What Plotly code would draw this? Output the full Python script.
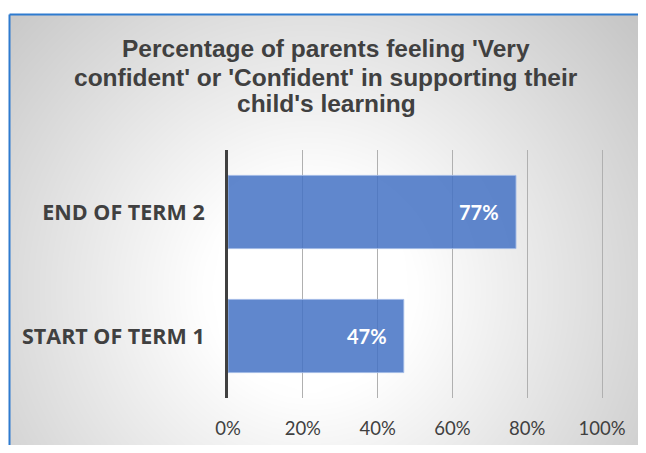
import numpy as np
import plotly.graph_objects as go

# ---- data ----
categories = ["START OF TERM 1", "END OF TERM 2"]
values = [47, 77]
value_labels = ["47%", "77%"]
tick_values = [0, 20, 40, 60, 80, 100]
tick_labels = ["0%", "20%", "40%", "60%", "80%", "100%"]
title_lines = ["Percentage of parents feeling 'Very",
               "confident' or 'Confident' in supporting their",
               "child's learning"]

# figure size chosen so the page (with default 8px body margin) fits the window
W, H = 630, 437
OFF = 8


def sx(px):  # screen x pixel -> paper fraction
    return (px - OFF) / W


def sy(py):  # screen y pixel -> paper fraction
    return 1 - (py - OFF) / H


# ---- radial gradient background (style only) ----
gx = np.linspace(10, 646, 40)
gy = np.linspace(15, 453, 30)
XX, YY = np.meshgrid(gx, gy)
rr = np.sqrt((XX - 310) ** 2 + (YY - 290) ** 2)
zz = np.clip((rr - 100) / 320, 0, 1)

fig = go.Figure()
fig.add_trace(go.Heatmap(
    x=gx, y=gy, z=zz, zmin=0, zmax=1, zsmooth="best",
    colorscale=[[0, "#ffffff"], [1, "#c6c6c6"]],
    showscale=False, hoverinfo="skip", xaxis="x", yaxis="y",
))

fig.add_trace(go.Bar(
    y=categories, x=values, orientation="h",
    marker=dict(color="rgba(68,114,196,0.85)",
                line=dict(color="rgba(160,185,230,0.9)", width=1)),
    xaxis="x2", yaxis="y2", hoverinfo="skip",
))

annotations = []
for c, v, lab in zip(categories, values, value_labels):
    annotations.append(dict(
        x=v, y=c, xref="x2", yref="y2", text=lab, showarrow=False,
        xanchor="right", xshift=-15,
        font=dict(family="Lato, Liberation Sans, sans-serif", size=20,
                  color="white", weight="bold"),
    ))

for line, ypx in zip(title_lines, [48, 77, 104]):
    annotations.append(dict(
        x=sx(326), y=sy(ypx), xref="paper", yref="paper",
        text="<b>" + line + "</b>", showarrow=False,
        xanchor="center", yanchor="middle",
        font=dict(family="Liberation Sans, Arial, sans-serif", size=24.5, color="#404040"),
    ))

shapes = [
    dict(type="line", xref="paper", yref="paper",
         x0=sx(9.5), x1=1, y0=sy(14.5), y1=sy(14.5),
         line=dict(color="#2E7BCF", width=2), layer="above"),
    dict(type="line", xref="paper", yref="paper",
         x0=sx(9.5), x1=sx(9.5), y0=0, y1=sy(14.5),
         line=dict(color="#2E7BCF", width=2), layer="above"),
]

XMAX = 100.5  # small headroom so the 100% gridline is drawn
PX_PER_UNIT = (602 - 228) / 100

fig.update_layout(
    width=W, height=H,
    margin=dict(l=0, r=0, t=0, b=0, autoexpand=False),
    paper_bgcolor="white", plot_bgcolor="rgba(0,0,0,0)",
    showlegend=False,
    bargap=0.41,
    xaxis=dict(domain=[sx(10), 1], range=[10, OFF + W], visible=False,
               fixedrange=True, automargin=False),
    yaxis=dict(domain=[0, sy(15)], range=[OFF + H, 15], visible=False,
               fixedrange=True, automargin=False),
    xaxis2=dict(domain=[sx(228), sx(228 + XMAX * PX_PER_UNIT)], range=[0, XMAX], anchor="y2",
                tickvals=tick_values, ticktext=tick_labels, automargin=False,
                showgrid=True, gridcolor="#b0b0b0", gridwidth=1,
                zeroline=False, showline=False, ticks="",
                ticklabelstandoff=17,
                tickfont=dict(family="Lato, Liberation Sans, sans-serif", size=18.5, color="#404040")),
    yaxis2=dict(domain=[sy(398), sy(150)], anchor="x2", automargin=False,
                categoryorder="array", categoryarray=categories,
                showline=True, linecolor="#404040", linewidth=3,
                showgrid=False, zeroline=False, ticks="",
                ticklabelstandoff=16,
                tickfont=dict(family="Open Sans, Liberation Sans, sans-serif", size=21.5,
                              color="#404040", weight="bold")),
    annotations=annotations,
    shapes=shapes,
)

fig.write_html("out.html")
